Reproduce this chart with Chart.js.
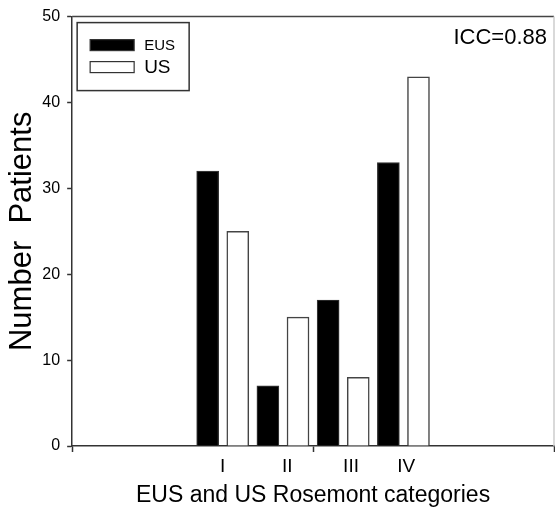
<!DOCTYPE html>
<html>
<head>
<meta charset="utf-8">
<script src="https://cdn.jsdelivr.net/npm/chart.js@4"></script>
<style>
  html, body { margin: 0; padding: 0; background: #fff; }
</style>
</head>
<body>
<canvas id="chart" width="555" height="507"></canvas>
<script>
// EUS vs US Rosemont categories, patient counts
const categories = ['I', 'II', 'III', 'IV'];
const eusPatients = [32, 7, 17, 33];
const usPatients = [25, 15, 8, 43];
const yTicks = [0, 10, 20, 30, 40, 50];
const iccLabel = 'ICC=0.88';

// x axis runs 0..16, each category group is 2 units wide, starting at 4
const groupCentre = i => 5 + 2 * i;
const labelNudge = [0, 0.14, 0.26, 0.09];

Chart.defaults.font.family = '"Liberation Sans", Arial, sans-serif';
Chart.defaults.color = '#000';

// Legend drawn inside the plot, each entry with its own font size
const legendBox = {
  id: 'legendBox',
  afterDraw(chart, args, opts) {
    const {ctx, chartArea} = chart;
    const x = chartArea.left + opts.x;
    const y = chartArea.top + opts.y;
    ctx.save();
    ctx.lineWidth = 1.5;
    ctx.strokeStyle = '#333';
    ctx.strokeRect(x, y, opts.width, opts.height);
    chart.data.datasets.forEach((ds, i) => {
      const sy = y + opts.rowTop + i * opts.rowGap;
      ctx.fillStyle = ds.backgroundColor;
      ctx.fillRect(x + 13, sy, 44, 11);
      ctx.strokeStyle = '#333';
      ctx.lineWidth = 1.2;
      ctx.strokeRect(x + 13, sy, 44, 11);
      ctx.fillStyle = '#000';
      ctx.font = opts.fontSizes[i] + 'px "Liberation Sans"';
      ctx.textBaseline = 'middle';
      ctx.textAlign = 'left';
      ctx.fillText(ds.label, x + 67, sy + 6);
    });
    ctx.restore();
  }
};

// Top/right frame lines and the ICC note
const frame = {
  id: 'frame',
  afterDraw(chart) {
    const {ctx, chartArea} = chart;
    ctx.save();
    ctx.lineWidth = 1.5;
    ctx.strokeStyle = '#444';
    ctx.beginPath();
    ctx.moveTo(chartArea.left, chartArea.top);
    ctx.lineTo(chartArea.right, chartArea.top);
    ctx.stroke();
    ctx.strokeStyle = '#ccc';
    ctx.beginPath();
    ctx.moveTo(chartArea.right, chartArea.top);
    ctx.lineTo(chartArea.right, chartArea.bottom);
    ctx.stroke();
    ctx.fillStyle = '#000';
    ctx.font = '22px "Liberation Sans"';
    ctx.textAlign = 'right';
    ctx.textBaseline = 'middle';
    ctx.fillText(iccLabel, chartArea.right - 7, chartArea.top + 21);
    ctx.restore();
  }
};

new Chart(document.getElementById('chart'), {
  type: 'bar',
  data: {
    datasets: [{
      label: 'EUS',
      data: eusPatients.map((v, i) => ({x: groupCentre(i) - 0.5, y: v})),
      backgroundColor: '#000',
      borderColor: '#333',
      borderWidth: 1.2
    }, {
      label: 'US',
      data: usPatients.map((v, i) => ({x: groupCentre(i) + 0.5, y: v})),
      backgroundColor: '#fff',
      borderColor: '#444',
      borderWidth: 1.5
    }]
  },
  options: {
    responsive: false,
    animation: false,
    barThickness: 22,
    grouped: false,
    layout: { padding: { top: 15, right: 1, left: 0, bottom: 0 } },
    plugins: {
      legend: { display: false },
      tooltip: { enabled: false },
      legendBox: { x: 5, y: 6, width: 112, height: 68, rowTop: 17, rowGap: 22, fontSizes: [15, 19] }
    },
    scales: {
      x: {
        type: 'linear',
        min: 0,
        max: 16,
        offset: false,
        z: 1,
        afterBuildTicks: axis => {
          const t = [0, 8, 16].map(v => ({value: v}));
          categories.forEach((c, i) => t.push({value: groupCentre(i) + labelNudge[i], name: c}));
          t.sort((a, b) => a.value - b.value);
          axis.ticks = t;
        },
        ticks: {
          autoSkip: false,
          maxRotation: 0,
          padding: 0,
          font: { size: 19, lineHeight: 1.6 },
          callback: (v, i, ticks) => ticks[i].name || ''
        },
        grid: {
          offset: false,
          drawOnChartArea: false,
          tickLength: 6,
          tickWidth: 1.5,
          tickColor: ctx => (ctx.tick && ctx.tick.name) ? 'rgba(0,0,0,0)' : '#333'
        },
        border: { color: '#333', width: 1.5 },
        title: {
          display: true,
          text: 'EUS and US Rosemont categories',
          font: { size: 23, lineHeight: 1 },
          padding: { top: 1.6, bottom: 0 }
        }
      },
      y: {
        min: 0,
        max: 50,
        z: 1,
        afterBuildTicks: axis => { axis.ticks = yTicks.map(v => ({value: v})); },
        ticks: { padding: 7, font: { size: 16 } },
        grid: { drawOnChartArea: false, tickLength: 5, tickWidth: 1.5, tickColor: '#333' },
        border: { color: '#333', width: 1.5 },
        title: {
          display: true,
          text: 'Number  Patients',
          font: { size: 31, lineHeight: 0.85 },
          padding: { top: 9, bottom: 0 }
        }
      }
    }
  },
  plugins: [legendBox, frame]
});
</script>
</body>
</html>
